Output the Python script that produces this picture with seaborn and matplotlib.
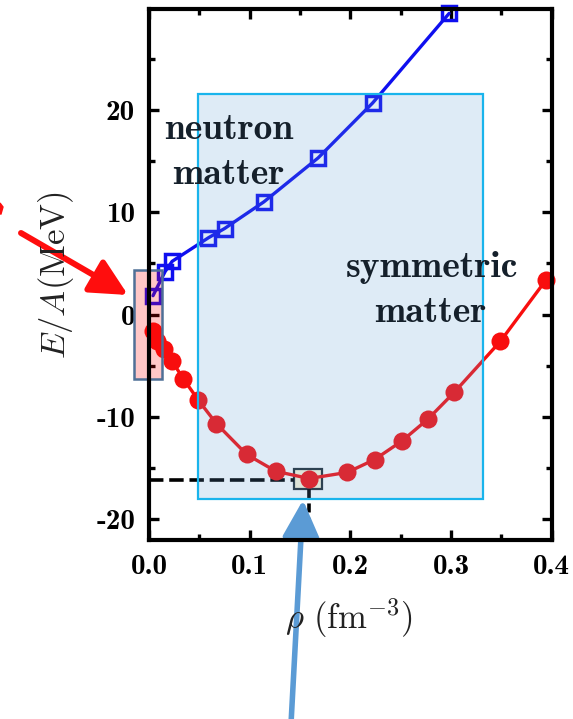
import matplotlib
matplotlib.use("Agg")
import matplotlib.pyplot as plt
import matplotlib.ticker as mticker
from matplotlib.patches import Rectangle, Polygon
import pandas as pd
import seaborn as sns

# symmetric matter (red circles)
sym_rho = [0.004, 0.0075, 0.015, 0.023, 0.034, 0.049, 0.067, 0.097, 0.126, 0.159,
           0.197, 0.224, 0.251, 0.277, 0.303, 0.349, 0.394]
sym_e = [-1.6, -2.6, -3.4, -4.55, -6.25, -8.35, -10.65, -13.65, -15.3, -16.0,
         -15.4, -14.15, -12.35, -10.2, -7.6, -2.6, 3.35]

# neutron matter (blue squares)
neu_rho = [0.004, 0.016, 0.023, 0.059, 0.075, 0.114, 0.168, 0.222, 0.298]
neu_e = [1.85, 4.2, 5.2, 7.5, 8.4, 11.0, 15.3, 20.65, 29.4]

x_ticks = [0.0, 0.1, 0.2, 0.3, 0.4]
y_ticks = [-20, -10, 0, 10, 20]

sns.set_style("ticks")
plt.rcParams["mathtext.fontset"] = "cm"
plt.rcParams["axes.unicode_minus"] = False
plt.rcParams["axes.edgecolor"] = "black"
plt.rcParams["xtick.color"] = "black"
plt.rcParams["ytick.color"] = "black"

fig = plt.figure(figsize=(5.73, 7.19), dpi=100)
ax = fig.add_axes([0.260, 0.249, 0.703, 0.738])

df_sym = pd.DataFrame({"rho": sym_rho, "E": sym_e})
df_neu = pd.DataFrame({"rho": neu_rho, "E": neu_e})

red = "#f80e0e"
blue = "#0f0fef"
sns.lineplot(data=df_sym, x="rho", y="E", ax=ax, color=red, lw=2.4, marker="o",
             markersize=13, markeredgewidth=0, estimator=None, sort=False,
             zorder=2, clip_on=False)
sns.lineplot(data=df_neu, x="rho", y="E", ax=ax, color=blue, lw=2.4, marker="s",
             markersize=10, markerfacecolor="none", markeredgecolor=blue,
             markeredgewidth=2.5, estimator=None, sort=False, zorder=2, clip_on=False)

# minimum box and dashed guides
ax.add_patch(Rectangle((0.1444, -17.0), 0.0276, 1.9, facecolor="#fdf5d8",
                       edgecolor="#222c32", lw=1.6, zorder=1.5))
ax.plot([0, 0.1444], [-16.1, -16.1], color="black", lw=2.6, ls=(0, (4, 1.6)),
        zorder=1.5, clip_on=False)
ax.plot([0.159, 0.159], [-17.0, -22], color="black", lw=2.6, ls=(0, (2.5, 1.5)),
        zorder=1.5, clip_on=False)

# shaded regions
ax.add_patch(Rectangle((0.0486, -18.0), 0.2829, 39.5, facecolor="#5b9bd5", alpha=0.2,
                       edgecolor="none", zorder=3))
ax.add_patch(Rectangle((0.0486, -18.0), 0.2829, 39.5, facecolor="none",
                       edgecolor="#19b4ec", lw=1.6, zorder=3.1))
ax.add_patch(Rectangle((-0.015, -6.24), 0.0275, 10.6, facecolor="red", alpha=0.22,
                       edgecolor="none", zorder=3, clip_on=False))
ax.add_patch(Rectangle((-0.015, -6.24), 0.0275, 10.6, facecolor="none",
                       edgecolor="#4f7097", lw=1.8, zorder=3.1, clip_on=False))

txt_kw = dict(fontsize=27, family="cmb10", color="#15202b", ha="center",
              va="baseline", zorder=5)
ax.text(0.0794, 17.17, "neutron", **txt_kw)
ax.text(0.0784, 12.78, "matter", **txt_kw)
ax.text(0.281, 3.7, "symmetric", **txt_kw)
ax.text(0.279, -0.75, "matter", **txt_kw)

ax.set_xlim(0, 0.4)
ax.set_ylim(-22, 29.8)
ax.set_xticks(x_ticks)
ax.set_yticks(y_ticks)
ax.xaxis.set_minor_locator(mticker.MultipleLocator(0.05))
ax.yaxis.set_minor_locator(mticker.MultipleLocator(5))
ax.xaxis.set_major_formatter(mticker.FuncFormatter(lambda v, p: f"{v:.1f}"))
ax.yaxis.set_major_formatter(mticker.FuncFormatter(lambda v, p: f"{int(round(v))}"))
ax.tick_params(which="both", direction="in", top=True, right=True, width=2.4,
               color="black", labelcolor="black")
ax.tick_params(which="major", length=7, labelsize=21, pad=10)
ax.tick_params(which="minor", length=4)
for lab in ax.get_xticklabels() + ax.get_yticklabels():
    lab.set_family("cmb10")
for s in ax.spines.values():
    s.set_linewidth(3)
    s.set_color("black")
    s.set_zorder(6)
ax.set_xlabel("")
ax.set_ylabel("")

fig.text(56 / 573, 1 - 275 / 719, r"$E/A(\mathrm{MeV})$", rotation=90, fontsize=25,
         ha="center", va="center", color="#222222")
fig.text(349 / 573, 1 - 618 / 719, r"$\rho\ (\mathrm{fm}^{-3})$", fontsize=25,
         ha="center", va="center", color="#222222")

# arrows
ax.annotate("", xy=(128, 719 - 295), xytext=(21, 719 - 233), xycoords="figure pixels",
            textcoords="figure pixels",
            arrowprops=dict(arrowstyle="-|>,head_length=0.9,head_width=0.45",
                            color="#ff0d0d", lw=4.3, mutation_scale=25,
                            shrinkA=0, shrinkB=0))
ax.annotate("", xy=(303, 719 - 500), xytext=(291, -5), xycoords="figure pixels",
            textcoords="figure pixels",
            arrowprops=dict(arrowstyle="-|>,head_length=0.9,head_width=0.45",
                            color="#5b9bd5", lw=4, mutation_scale=25,
                            shrinkA=0, shrinkB=0))
fig.patches.append(Polygon([(0, 1 - 203 / 719), (3 / 573, 1 - 207 / 719),
                            (1 / 573, 1 - 214 / 719), (0, 1 - 214 / 719)],
                           closed=True, transform=fig.transFigure, color="#ff0d0d"))

fig.savefig("out.png", dpi=100)
